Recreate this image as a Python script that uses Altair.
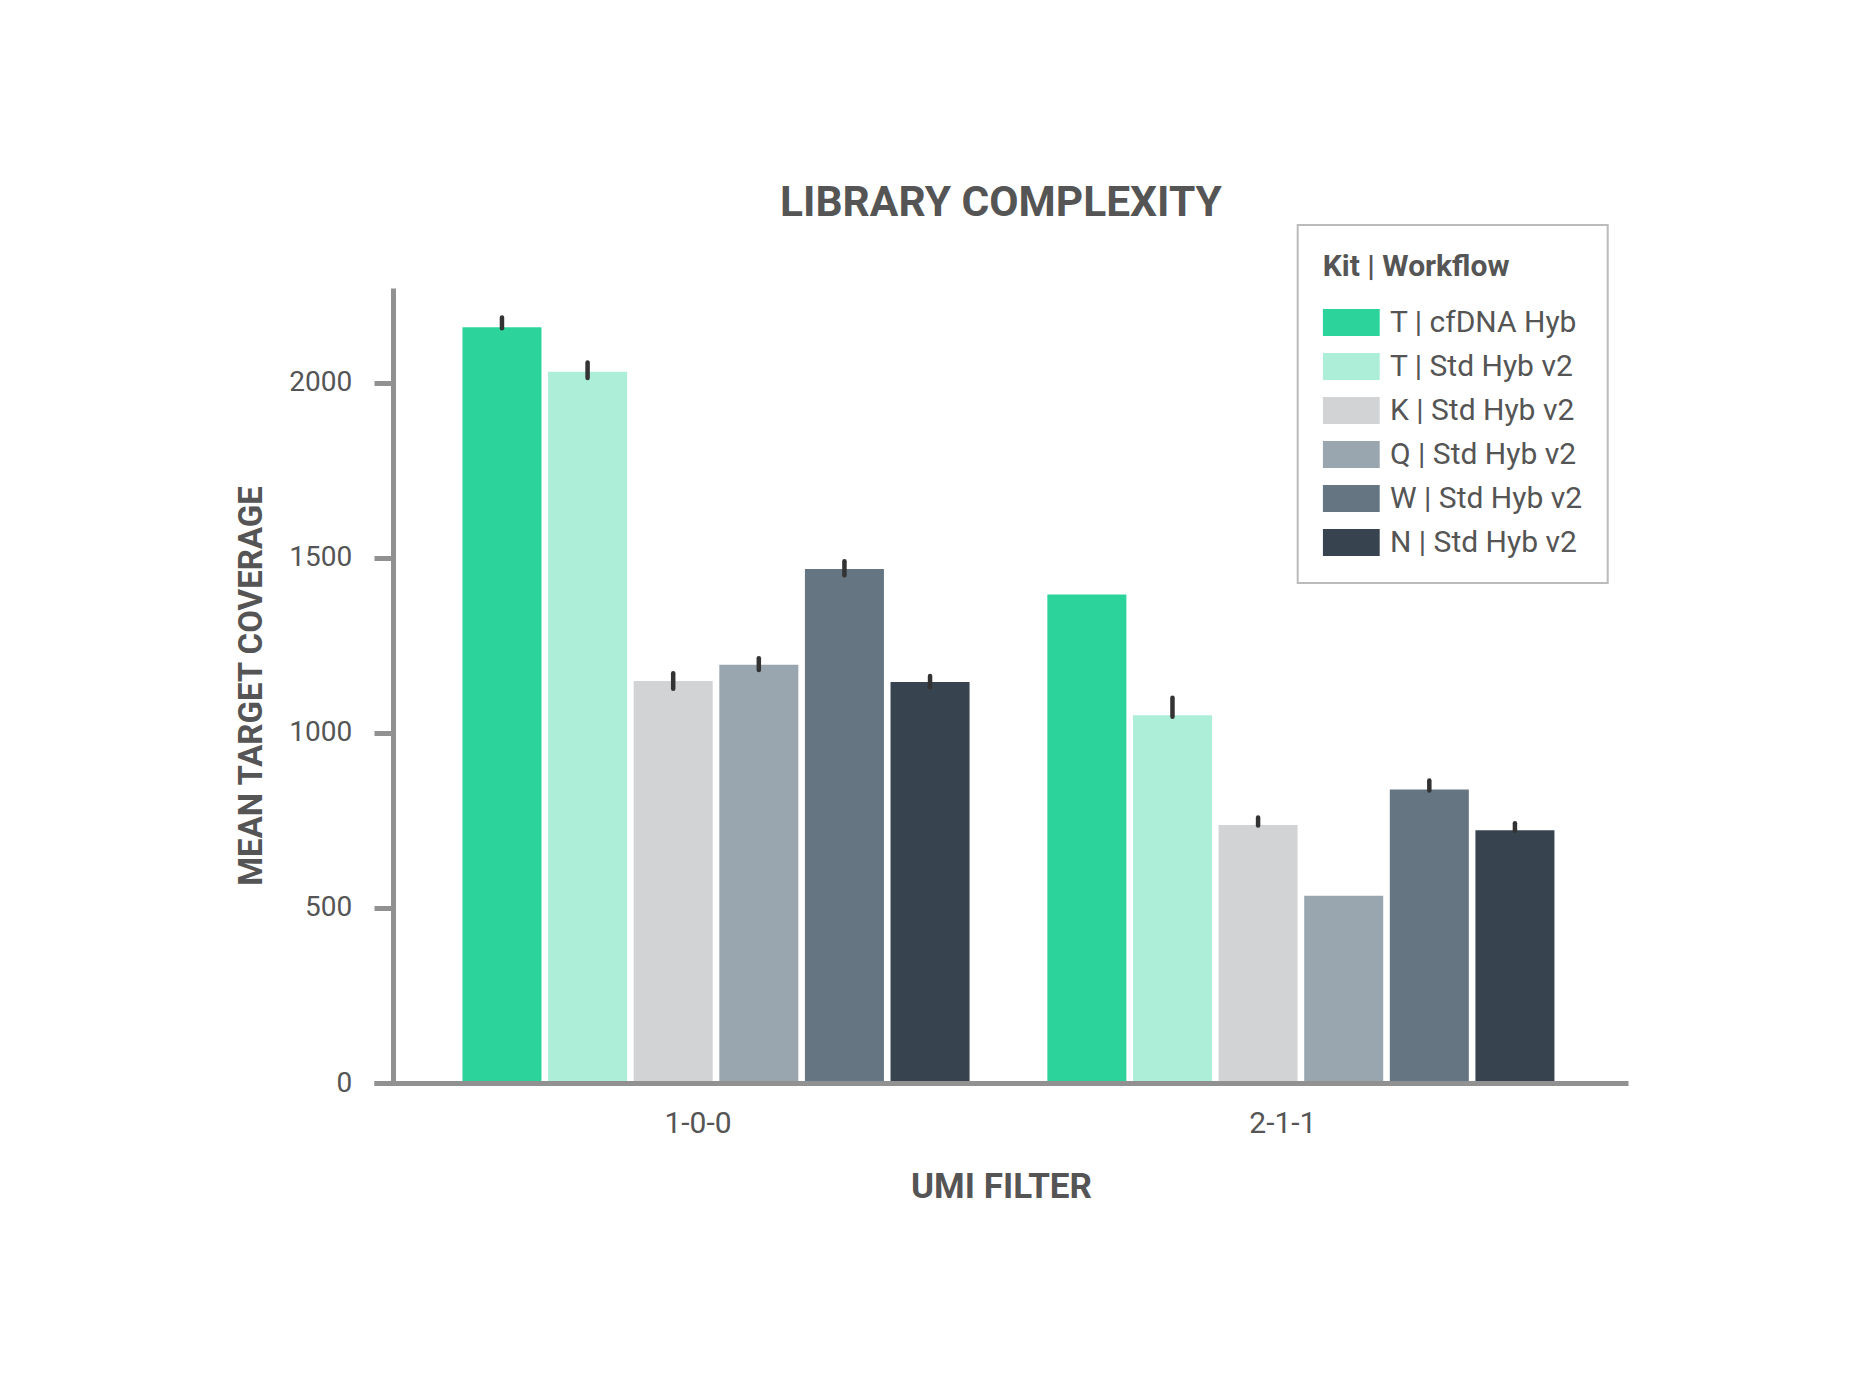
import altair as alt
import pandas as pd

filters = ["1-0-0", "2-1-1"]
kits = ["T | cfDNA Hyb", "T | Std Hyb v2", "K | Std Hyb v2",
        "Q | Std Hyb v2", "W | Std Hyb v2", "N | Std Hyb v2"]
colors = ["#2cd49c", "#adeed8", "#d2d3d5", "#9aa6af", "#667582", "#37444f"]

mean_100 = [2158, 2031, 1148, 1194, 1468, 1145]
mean_211 = [1395, 1050, 737, 535, 838, 722]
lo_100 = [2155, 2013, 1126, 1179, 1450, 1130]
hi_100 = [2186, 2057, 1170, 1213, 1490, 1162]
lo_211 = [1395, 1046, 735, 535, 835, 720]
hi_211 = [1395, 1100, 758, 535, 864, 742]
y_ticks = [0, 500, 1000, 1500, 2000]

rows = []
for f, means, los, his in [("1-0-0", mean_100, lo_100, hi_100),
                           ("2-1-1", mean_211, lo_211, hi_211)]:
    for k, m, lo, hi in zip(kits, means, los, his):
        rows.append({"filter": f, "kit": k, "mean": m, "lo": lo, "hi": hi})
df = pd.DataFrame(rows)

TXT = "#555555"
AX = "#919191"
FONT = "Roboto"

x_scale = alt.Scale(paddingInner=0.133, paddingOuter=0.1385, align=0.546)
xo_scale = alt.Scale(paddingInner=0.077, paddingOuter=0)
y_scale = alt.Scale(domain=[0, 2270], nice=False)

x_axis = alt.Axis(labelAngle=0, ticks=False, tickSize=0, labelPadding=25.6, labelOffset=-18,
                  titlePadding=31, domainWidth=5, domainColor=AX, zindex=1,
                  labelFont=FONT, labelFontSize=30, labelColor=TXT,
                  titleFont=FONT, titleFontSize=35, titleFontWeight="bold", titleColor=TXT,
                  grid=False)
y_axis = alt.Axis(values=y_ticks, format="d", offset=-19, tickSize=19, tickWidth=5, tickColor=AX,
                  domainWidth=5, domainColor=AX, grid=False, labelPadding=22.3,
                  titlePadding=20, labelFont=FONT, labelFontSize=28, labelColor=TXT,
                  titleFont=FONT, titleFontSize=33, titleFontWeight="bold", titleColor=TXT)

legend = alt.Legend(title="Kit | Workflow", orient="none", legendX=923.7, legendY=-63,
                    padding=25, symbolType="M-1,-0.474H1V0.474H-1Z", symbolSize=3249,
                    symbolStrokeWidth=0, clipHeight=30, rowPadding=14, labelOffset=10.3,
                    labelFont=FONT, labelFontSize=30, labelColor=TXT, labelLimit=0,
                    titleFont=FONT, titleFontSize=30, titleFontWeight="bold", titleColor=TXT,
                    titlePadding=27.5, titleLimit=0, strokeColor="#bbbbbb",
                    titleBaseline="line-top", titleLineHeight=34)

bars = alt.Chart(df).mark_bar().encode(
    x=alt.X("filter:N", sort=filters, title="UMI FILTER", scale=x_scale, axis=x_axis),
    xOffset=alt.XOffset("kit:N", sort=kits, scale=xo_scale),
    y=alt.Y("mean:Q", title="MEAN TARGET COVERAGE", scale=y_scale, axis=y_axis),
    color=alt.Color("kit:N", sort=kits, scale=alt.Scale(domain=kits, range=colors), legend=legend),
)

errs = alt.Chart(df).transform_filter("datum.hi > datum.lo").mark_rule(
    color="#333333", strokeWidth=4.5, strokeCap="round"
).encode(
    x=alt.X("filter:N", sort=filters, title="UMI FILTER"),
    xOffset=alt.XOffset("kit:N", sort=kits),
    y=alt.Y("lo:Q", title="MEAN TARGET COVERAGE"),
    y2="hi:Q",
)

chart = alt.layer(bars, errs).properties(
    width=1254, height=795,
    padding={"left": 366, "top": 280, "right": 220, "bottom": 301},
    autosize=alt.AutoSizeParams(type="none"),
    title=alt.TitleParams("LIBRARY COMPLEXITY", font=FONT, fontSize=42.5, fontWeight="bold",
                          color=TXT, anchor="middle", baseline="alphabetic", offset=-34),
).configure_view(strokeWidth=0).configure_legend(strokeWidth=2)

chart.save("out.html", embed_options={"renderer": "svg", "actions": False})
